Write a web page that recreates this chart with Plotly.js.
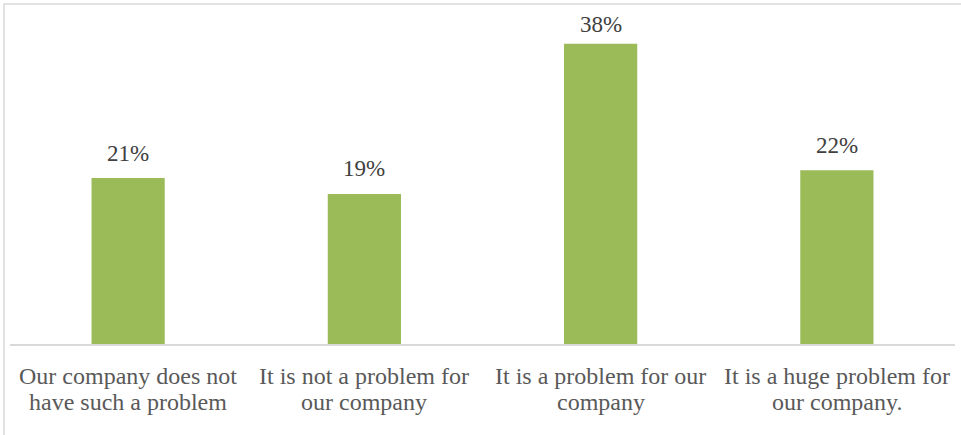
<!DOCTYPE html>
<html><head><meta charset="utf-8">
<script src="https://cdn.plot.ly/plotly-3.0.1.min.js"></script>
<style>html,body{margin:0;padding:0;background:#fff;}#chart{width:961px;height:435px;}</style>
</head><body><div id="chart"></div>
<script>
const categories = ["Our company does not<br>have such a problem", "It is not a problem for<br>our company", "It is a problem for our<br>company", "It is a huge problem for<br>our company."];
const values = [21, 19, 38, 22];
const labels = ["21%", "19%", "38%", "22%"];
const FONT = '"Liberation Serif", "Times New Roman", serif';

const yMax = 40, topM = 28, botM = 91, H = 435;
const pxPerUnit = (H - topM - botM) / yMax;

const trace = {
  type: 'bar', x: categories, y: values,
  marker: {color: '#9BBB59'},
  hoverinfo: 'none'
};
const valueAnns = categories.map((c, i) => ({
  x: c, y: values[i], xref: 'x', yref: 'y', text: labels[i], showarrow: false,
  yanchor: 'middle',
  yshift: Math.min(25, (yMax - values[i]) * pxPerUnit + topM - 24),
  font: {family: FONT, size: 23, color: '#404040'}
}));
const catAnns = [];
categories.forEach(c => {
  c.split('<br>').forEach((line, j) => {
    catAnns.push({x: c, y: 0, xref: 'x', yref: 'paper', text: line, showarrow: false,
      yanchor: 'middle', yshift: -32 - 26 * j,
      font: {family: FONT, size: 24, color: '#595959'}});
  });
});
const layout = {
  width: 961, height: H,
  margin: {l: 10, r: 6, t: topM, b: botM},
  paper_bgcolor: '#fff', plot_bgcolor: '#fff',
  bargap: 0.69,
  showlegend: false,
  xaxis: {
    type: 'category', showgrid: false, zeroline: false,
    showline: true, linecolor: '#d9d9d9', linewidth: 1.5,
    ticks: '', showticklabels: false
  },
  yaxis: {range: [0, yMax], visible: false, showgrid: false, zeroline: false, fixedrange: true},
  annotations: valueAnns.concat(catAnns),
  shapes: [{type: 'rect', xref: 'paper', yref: 'paper', x0: -0.0064, x1: 1.2, y0: -1, y1: 1.0759,
    line: {color: '#d9d9d9', width: 1.5}, fillcolor: 'rgba(0,0,0,0)', layer: 'below'}]
};
Plotly.newPlot('chart', [trace], layout, {displayModeBar: false, staticPlot: true});
</script></body></html>
